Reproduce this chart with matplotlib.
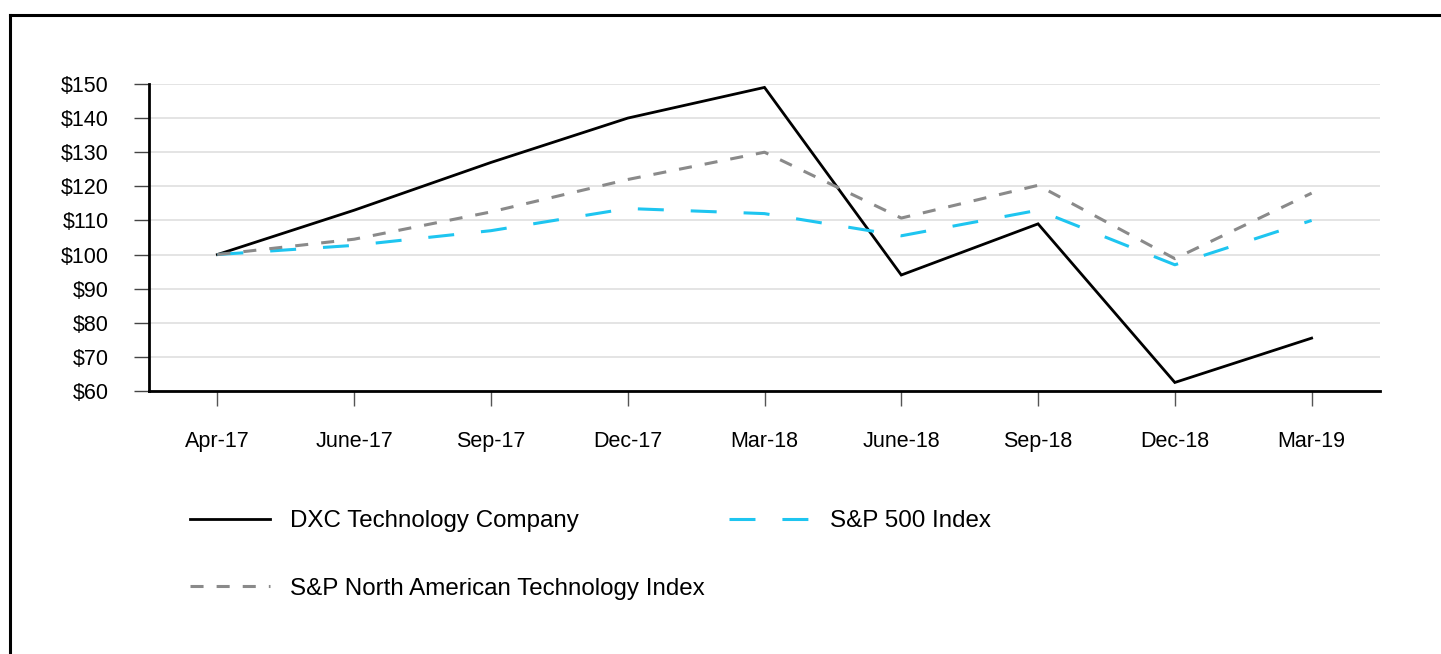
import matplotlib

matplotlib.use("Agg")
import matplotlib.pyplot as plt
from matplotlib.lines import Line2D

plt.rcParams.update(
    {
        "font.family": ["Liberation Sans", "DejaVu Sans"],
        "lines.scale_dashes": False,
    }
)

# ---------------------------------------------------------------------------
# data
# ---------------------------------------------------------------------------
periods = ["Apr-17", "June-17", "Sep-17", "Dec-17", "Mar-18",
           "June-18", "Sep-18", "Dec-18", "Mar-19"]
dxc = [100, 113, 127, 140, 149, 94, 109, 62.5, 75.5]
sp500 = [100, 102.7, 107, 113.5, 112, 105.5, 113, 97, 110]
sp_na_tech = [100, 104.5, 112.5, 122, 130, 110.7, 120.3, 98.8, 118]
y_ticks = [60, 70, 80, 90, 100, 110, 120, 130, 140, 150]

W, H = 1441, 654
fig = plt.figure(figsize=(W / 100, H / 100), dpi=100)
ax = fig.add_axes([149 / W, 1 - 391 / H, (1380 - 149) / W, (391 - 84) / H])

x = list(range(len(periods)))

ax.plot(x, dxc, color="black", lw=2.0, label="DXC Technology Company",
        solid_joinstyle="miter")
ax.plot(x, sp500, color="#1ec5f0", lw=2.2, dashes=(18.7, 19.4),
        label="S&P 500 Index")
ax.plot(x, sp_na_tech, color="#8a8a8a", lw=2.2, dashes=(9.4, 9.4),
        label="S&P North American Technology Index")

ax.set_xlim(-0.5, len(periods) - 0.5)
ax.set_ylim(60, 150)
ax.set_xticks(x)
ax.set_xticklabels(periods, fontsize=15.5)
ax.set_yticks(y_ticks)
ax.set_yticklabels([f"${v}" for v in y_ticks], fontsize=15.5)

ax.grid(axis="y", color="#dcdcdc", lw=1.1)
ax.set_axisbelow(True)
for side in ["top", "right"]:
    ax.spines[side].set_visible(False)
for side in ["left", "bottom"]:
    ax.spines[side].set_linewidth(2)
    ax.spines[side].set_color("black")

ax.tick_params(axis="y", length=11, width=1, color="#444444", pad=18)
ax.tick_params(axis="x", length=11, width=1, color="#555555", pad=18)

# legend below the plot
handles, labels = ax.get_legend_handles_labels()
order = [0, 2, 1]
fig.legend(
    [handles[i] for i in order], [labels[i] for i in order],
    ncol=2, loc="upper left",
    bbox_to_anchor=(190 / W, 1 - 510 / H),
    frameon=False, fontsize=17.4,
    handlelength=3.3, handletextpad=0.85,
    columnspacing=1.0, labelspacing=1.9,
    borderaxespad=0, borderpad=0,
)

# outer frame (top and left edges only)
fig.add_artist(Line2D([10 / W, 1], [1 - 15 / H, 1 - 15 / H],
                      transform=fig.transFigure, color="black", lw=2.2))
fig.add_artist(Line2D([10 / W, 10 / W], [1 - 15 / H, 0],
                      transform=fig.transFigure, color="black", lw=2.2))

fig.savefig("out.png", dpi=100)
